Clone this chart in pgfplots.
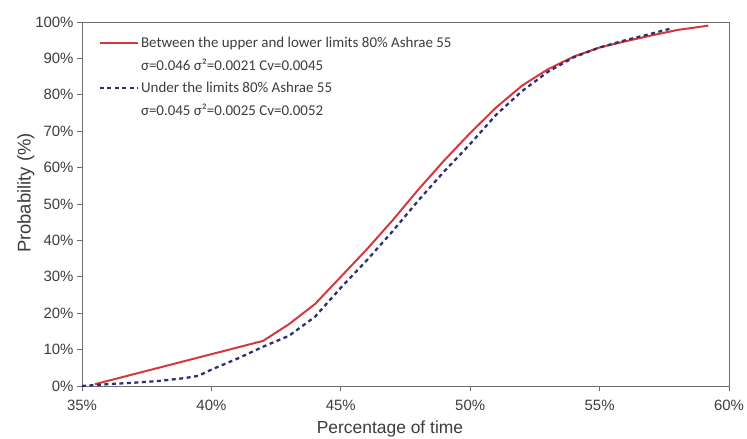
\documentclass[border=0pt]{standalone}
\usepackage{fontspec}
\setmainfont{Liberation Sans}
\newfontfamily\legfont{Carlito}
\usepackage{pgfplots}
\pgfplotsset{compat=1.18}
\definecolor{myred}{RGB}{212,56,62}
\definecolor{myblue}{RGB}{48,48,112}
\definecolor{axgray}{RGB}{110,110,110}
\definecolor{txtgray}{RGB}{60,60,60}
\begin{document}
\begin{tikzpicture}
\begin{axis}[
  scale only axis, width=647bp, height=364bp,
  xmin=35, xmax=60, ymin=0, ymax=100,
  xtick={35,40,45,50,55,60}, ytick={0,10,20,30,40,50,60,70,80,90,100},
  xticklabels={35\%,40\%,45\%,50\%,55\%,60\%},
  yticklabels={0\%,10\%,20\%,30\%,40\%,50\%,60\%,70\%,80\%,90\%,100\%},
  /pgf/number format/assume math mode=true,
  axis line style={axgray, line width=0.8bp},
  tick style={axgray, line width=0.8bp},
  tick align=outside, major tick length=5bp,
  xtick pos=bottom, ytick pos=left,
  ticklabel style={font=\fontsize{15}{17}\selectfont, text=txtgray},
  xticklabel style={yshift=-6bp},
  xlabel={Percentage of time}, ylabel={Probability (\%)},
  xlabel style={font=\fontsize{17.5}{20}\selectfont, text=txtgray, at={(ticklabel cs:0.476)}, yshift=-3bp},
  ylabel style={font=\fontsize{18.5}{20}\selectfont, text=txtgray, at={(ticklabel cs:0.53,-6bp)}},
  legend style={at={(0.021,0.97)}, anchor=north west, draw=none, fill=none,
    font=\legfont\fontsize{15}{17}\selectfont, text=txtgray,
    row sep=6bp},
  legend cell align=left,
  legend image code/.code={\draw[#1] (0bp,0bp) -- (33bp,0bp); \path (0bp,0bp) -- (38bp,0bp);},
]
\addplot[myred, line width=2bp] table {
x y
35.5 0.5
42 12.4
43 17
44 22.5
45 30
46 37.5
47 45.5
48 54
49 62
50 69.5
51 76.5
52 82.5
53 87
54 90.5
55 93
56 94.7
57 96.3
58 97.8
59.2 99
};
\addlegendentry{Between the upper and lower limits 80\% Ashrae 55}
\addlegendimage{empty legend}
\addlegendentry{σ=0.046 σ²=0.0021 Cv=0.0045}
\addplot[myblue, line width=2.3bp, dash pattern=on 4bp off 3.5bp] table {
x y
35 0
36 0.5
37 0.9
38 1.4
39 2.2
39.5 2.8
40 4.5
41 7.5
42 10.8
43 13.8
44 19
45 27
46 34.5
47 42.5
48 51
49 59
50 66.5
51 74.5
52 81
53 86.3
54 90.3
55 93
56 95
57 96.8
57.8 98.3
};
\addlegendentry{Under the limits 80\% Ashrae 55}
\addlegendimage{empty legend}
\addlegendentry{σ=0.045 σ²=0.0025 Cv=0.0052}
\end{axis}
\pgfresetboundingbox
\path ([xshift=-82bp,yshift=-53bp]current axis.south west) rectangle ([xshift=18bp,yshift=22bp]current axis.north east);
\end{tikzpicture}
\end{document}
